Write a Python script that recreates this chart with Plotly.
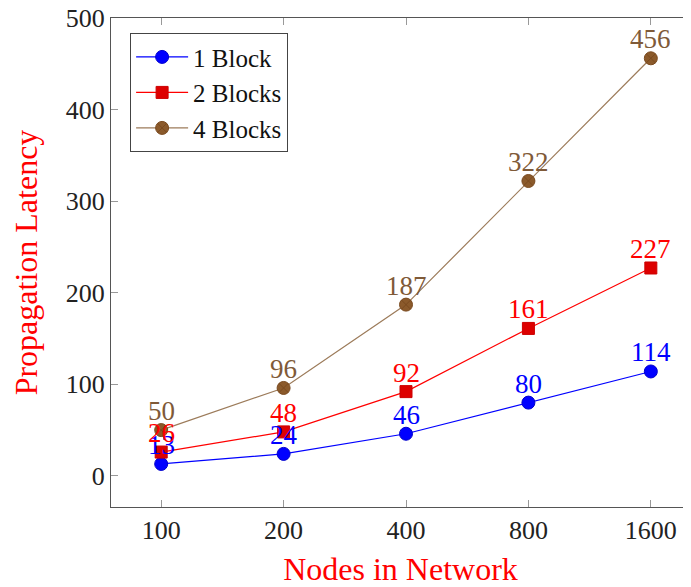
import plotly.graph_objects as go

nodes = ["100", "200", "400", "800", "1600"]
one_block = [13, 24, 46, 80, 114]
two_blocks = [26, 48, 92, 161, 227]
four_blocks = [50, 96, 187, 322, 456]
y_ticks = [0, 100, 200, 300, 400, 500]

FONT = "Liberation Serif"
x_idx = list(range(len(nodes)))

fig = go.Figure()
series = [
    ("1 Block", one_block, "#0000FF", "#0000FF", "#0000CC", "circle", 13, "#0000FF"),
    ("2 Blocks", two_blocks, "#FF0000", "#DD0000", "#CC0000", "square", 12, "#FF0000"),
    ("4 Blocks", four_blocks, "#9C7B5A", "#8B5A2B", "#7A4A1F", "circle-x", 13, "#7F5A38"),
]
annotations = []
for name, vals, lc, mc, ml, sym, ms, tc in series:
    fig.add_trace(go.Scatter(
        x=x_idx, y=vals, name=name, mode="lines+markers",
        line=dict(color=lc, width=1.2),
        marker=dict(symbol=sym, size=ms, color=mc, line=dict(color=ml, width=1)),
    ))
    for xi, v in zip(x_idx, vals):
        annotations.append(dict(
            x=xi, y=v, xref="x", yref="y", text=str(v), showarrow=False,
            yanchor="middle", xanchor="center", yshift=19,
            font=dict(family=FONT, size=27, color=tc),
        ))

fig.update_layout(
    width=683, height=579,
    margin=dict(l=103, r=1, t=10, b=80),
    paper_bgcolor="white", plot_bgcolor="white",
    font=dict(family=FONT, size=24, color="#222222"),
    showlegend=True,
    annotations=annotations,
    legend=dict(x=0.033, y=0.969, xanchor="left", yanchor="top",
                bordercolor="#444444", borderwidth=1, bgcolor="white",
                font=dict(family=FONT, size=25, color="#111111"),
                itemwidth=52, tracegroupgap=0),
    xaxis=dict(
        range=[-0.41, 4.32], tickmode="array", tickvals=x_idx, ticktext=nodes,
        showgrid=False, zeroline=False, showline=True, linecolor="#555555", linewidth=1.2,
        mirror="ticks", ticks="inside", ticklen=7, tickcolor="#999999", automargin=False,
        ticklabeloverflow="allow",
        tickfont=dict(family=FONT, size=26, color="#222222"),
        title=dict(text="Nodes in Network", font=dict(family=FONT, size=32, color="#FF0000"), standoff=15),
    ),
    yaxis=dict(
        range=[-34, 500], tickmode="array", tickvals=y_ticks,
        showgrid=False, zeroline=False, showline=True, linecolor="#555555", linewidth=1.2,
        mirror="ticks", ticks="inside", ticklen=7, tickcolor="#999999", automargin=False,
        ticklabeloverflow="allow",
        tickfont=dict(family=FONT, size=26, color="#222222"),
        title=dict(text="Propagation Latency", font=dict(family=FONT, size=32, color="#FF0000"), standoff=35),
    ),
)

fig.write_html("out.html")
